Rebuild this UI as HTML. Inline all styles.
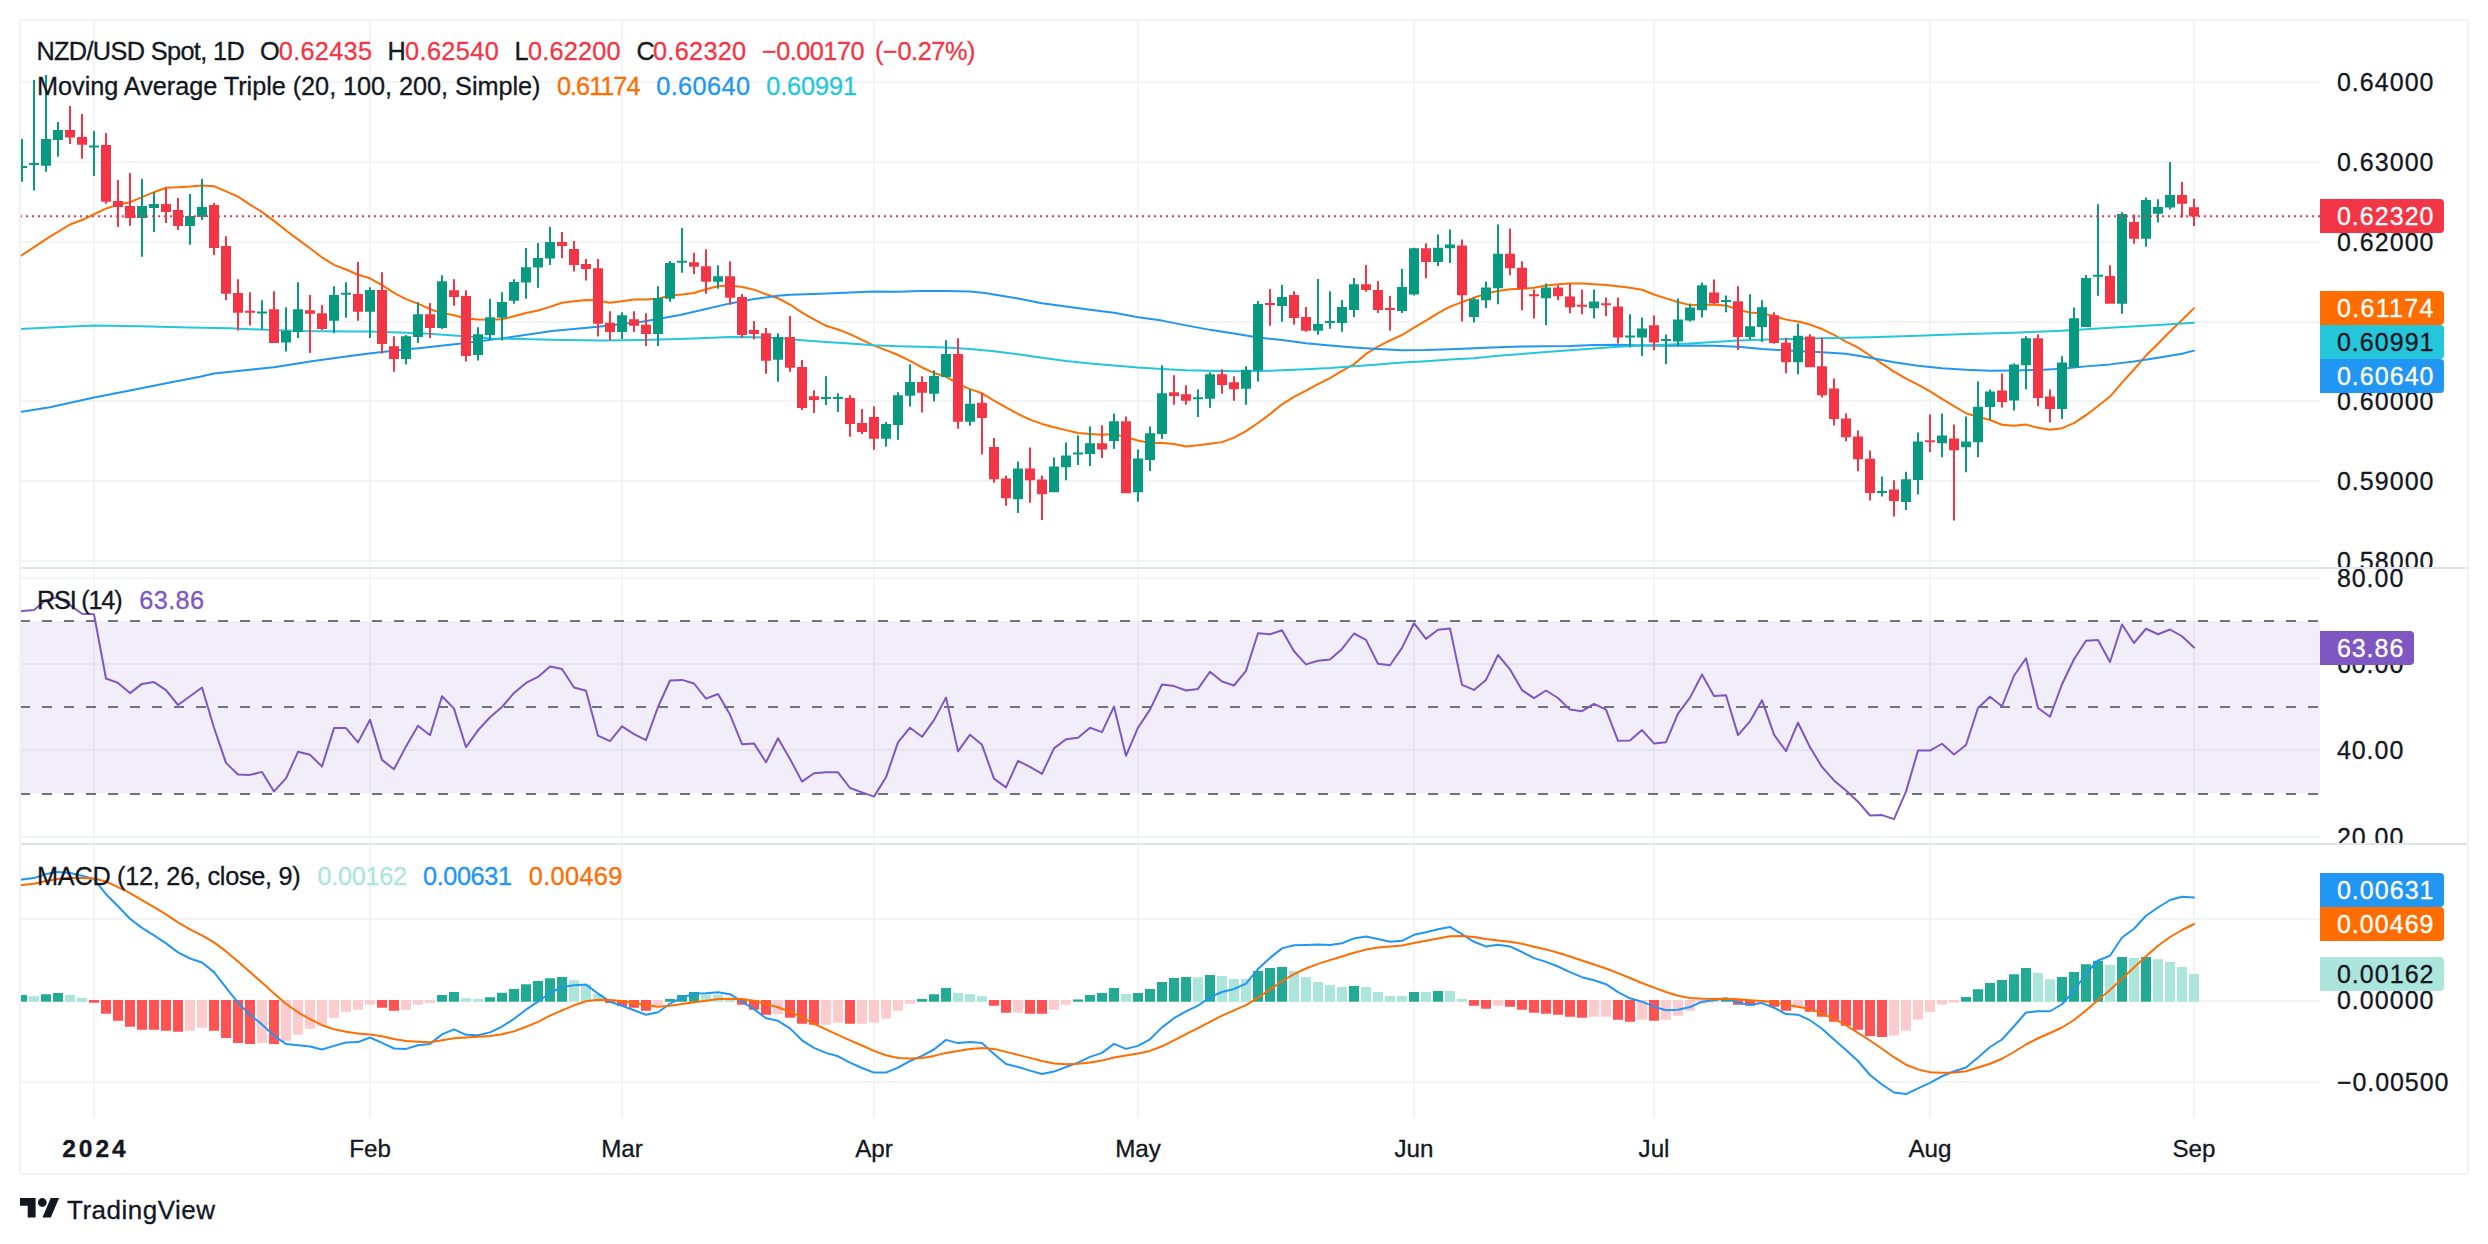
<!DOCTYPE html>
<html lang="en"><head><meta charset="utf-8"><title>NZD/USD Spot, 1D - TradingView</title>
<style>html,body{margin:0;padding:0;background:#fff;}body{width:2488px;height:1244px;overflow:hidden;}svg{display:block;font-family:'Liberation Sans', sans-serif;}text{stroke-width:0.3px;}</style>
</head><body>
<svg width="2488" height="1244" viewBox="0 0 2488 1244">
<defs>
<clipPath id="c1"><rect x="20" y="21" width="2300" height="546"/></clipPath>
<clipPath id="c2"><rect x="20" y="569" width="2300" height="274"/></clipPath>
<clipPath id="c3"><rect x="20" y="845" width="2300" height="273"/></clipPath>
<clipPath id="a1"><rect x="2320" y="21" width="147" height="546"/></clipPath>
<clipPath id="a2"><rect x="2320" y="569" width="147" height="274"/></clipPath>
<clipPath id="a3"><rect x="2320" y="845" width="147" height="273"/></clipPath>
</defs>
<rect x="0" y="0" width="2488" height="1244" fill="#fff"/>
<g fill="#F4F5F6">
<rect x="93" y="21" width="2" height="1097"/>
<rect x="369" y="21" width="2" height="1097"/>
<rect x="621" y="21" width="2" height="1097"/>
<rect x="873" y="21" width="2" height="1097"/>
<rect x="1137" y="21" width="2" height="1097"/>
<rect x="1413" y="21" width="2" height="1097"/>
<rect x="1653" y="21" width="2" height="1097"/>
<rect x="1929" y="21" width="2" height="1097"/>
<rect x="2193" y="21" width="2" height="1097"/>
</g>
<g fill="#F1F3F4">
<rect x="21" y="81" width="2299" height="2"/>
<rect x="21" y="161" width="2299" height="2"/>
<rect x="21" y="241" width="2299" height="2"/>
<rect x="21" y="321" width="2299" height="2"/>
<rect x="21" y="400" width="2299" height="2"/>
<rect x="21" y="480" width="2299" height="2"/>
<rect x="21" y="560" width="2299" height="2"/>
<rect x="21" y="577" width="2299" height="2"/>
<rect x="21" y="663" width="2299" height="2"/>
<rect x="21" y="749" width="2299" height="2"/>
<rect x="21" y="836" width="2299" height="2"/>
<rect x="21" y="918" width="2299" height="2"/>
<rect x="21" y="1000" width="2299" height="2"/>
<rect x="21" y="1081" width="2299" height="2"/>
</g>
<rect x="21" y="621" width="2299" height="172" fill="#7E57C2" fill-opacity="0.1"/>
<g stroke="#6F727D" stroke-width="2" stroke-dasharray="10 12" fill="none">
<path d="M20 621 H2320"/>
<path d="M20 707 H2320"/>
<path d="M20 794 H2320"/>
</g>
<path d="M20 256.4 L50 236.7 L70 224.5 L82.8 219.8 L94 214.1 L106 208.6 L118 204.5 L130 202.2 L142 197.2 L154 192.2 L166 187.8 L178 187.3 L190 186.5 L202 185.4 L214 186.2 L226 191.3 L238 196.6 L250 204.67 L262 211.93 L274 220.88 L286 230.47 L298 239.42 L310 248.23 L322 257.44 L334 264.87 L346 269.46 L358 274.71 L370 278.31 L382 285.21 L394 292.95 L406 299.17 L418 303.58 L430 309.18 L442 312.88 L454 315.33 L466 318.45 L478 319.52 L490 319.79 L502 319.28 L514 316.24 L526 313.05 L538 310.5 L550 306.91 L562 302.75 L574 301.25 L586 300.01 L598 300.61 L610 302.71 L622 301.27 L634 299.61 L646 299.49 L658 298.69 L670 295.44 L682 294.48 L694 292.96 L706 289.25 L718 286.34 L730 285.38 L742 287.02 L754 289.62 L766 294.29 L778 298.24 L790 304.52 L802 312.62 L814 319.37 L826 325.81 L838 329.52 L850 334.12 L862 339.97 L874 345.61 L886 350.12 L898 354.98 L910 360.92 L922 367.48 L934 372.94 L946 376.55 L958 383.83 L970 389.13 L982 393.28 L994 400.53 L1006 407.41 L1018 413.99 L1030 419.61 L1042 423.93 L1054 427.26 L1066 430.13 L1078 432.91 L1090 433.88 L1102 434.75 L1114 433.88 L1126 437.34 L1138 440.5 L1150 443.06 L1162 443.08 L1174 444.09 L1186 446.43 L1198 445.24 L1210 443.76 L1222 442.12 L1234 437.62 L1246 431.19 L1258 422.96 L1270 414.16 L1282 404.3 L1294 396.86 L1306 390.63 L1318 384.16 L1330 378.1 L1342 370.98 L1354 364.13 L1366 353.97 L1378 346.54 L1390 340.32 L1402 335 L1414 327.61 L1426 320.68 L1438 313.15 L1450 306.67 L1462 302.18 L1474 297.69 L1486 293.58 L1498 291.06 L1510 289.28 L1522 288.87 L1534 287.74 L1546 285.57 L1558 284.18 L1570 283.45 L1582 283.39 L1594 284.25 L1606 284.96 L1618 286.34 L1630 287.71 L1642 289.78 L1654 294.49 L1666 298.39 L1678 301.98 L1690 305.13 L1702 304.64 L1714 304.84 L1726 305.51 L1738 309.68 L1750 312.57 L1762 313.5 L1774 315.89 L1786 319.62 L1798 321.59 L1810 324.59 L1822 329.06 L1834 334.94 L1846 341.59 L1858 347.68 L1870 355.51 L1882 363.69 L1894 371.62 L1906 378.58 L1918 384.68 L1930 391.36 L1942 398.87 L1954 406.22 L1966 413.25 L1978 416.73 L1990 420 L2002 424.73 L2014 425.8 L2026 424.61 L2038 427.72 L2050 429.81 L2062 428.17 L2074 423.13 L2086 415.17 L2098 405.99 L2110 396.53 L2122 382.63 L2134 369.51 L2146 355.54 L2158 343.82 L2170 331.51 L2182 319.92 L2194 308.1" fill="none" stroke="#FF6D00" stroke-width="2" stroke-linejoin="round" stroke-linecap="round" clip-path="url(#c1)"/>
<path d="M20 411.9 L50 407.2 L94 397.6 L130 390.4 L170 382.6 L200 376.7 L214 373.5 L245 370.3 L274 367.2 L310 361.5 L346 356.4 L371 353.3 L400 350 L421 347.9 L461 343.5 L501 338.5 L552 330.9 L598 326.8 L642 321.8 L680 314.9 L706 309.1 L730 303.4 L754 299 L778 295.8 L790 294.8 L821 293.8 L851 292.4 L874 291.4 L898 291.8 L921 291 L946 291 L970 291.6 L985 293 L1018 298.4 L1042 303.3 L1066 306.6 L1090 309.8 L1114 312.8 L1138 317.2 L1162 320.61 L1186 325.38 L1210 329.86 L1234 333.44 L1258 337.52 L1282 340.1 L1306 343.19 L1330 345.48 L1354 347.47 L1378 349.06 L1402 350.13 L1426 349.93 L1450 349.14 L1474 348.34 L1498 347.35 L1522 346.55 L1546 346.25 L1570 346.05 L1594 345.06 L1618 344.86 L1642 345.46 L1666 345.85 L1690 345.46 L1714 345.66 L1738 346.65 L1762 348.96 L1774 349.75 L1822 352.14 L1846 353.73 L1870 357.81 L1894 362.19 L1918 365.77 L1942 368.26 L1966 369.85 L1990 370.84 L2014 370.45 L2038 370.05 L2062 368.85 L2086 366.37 L2110 364.38 L2134 361.39 L2158 357.81 L2182 353.73 L2194 350.65" fill="none" stroke="#2196F3" stroke-width="2" stroke-linejoin="round" stroke-linecap="round" clip-path="url(#c1)"/>
<path d="M20 329.1 L50 327.5 L94 325.6 L140 326.2 L190 327.5 L230 328.3 L260 329.6 L300 331 L350 331.5 L371 331.6 L421 333.3 L461 335.9 L491 338.5 L521 338.9 L562 339.9 L602 340.5 L642 339.9 L680 339 L706 338 L730 337 L754 337.2 L778 338 L802 340.2 L826 342 L850 343.6 L874 345.2 L898 346.2 L922 346.8 L946 347.6 L970 349 L994 351.2 L1018 354.2 L1042 357.8 L1066 361 L1090 363.4 L1114 365.4 L1138 367.6 L1162 368.95 L1186 370.25 L1210 370.84 L1234 371.24 L1258 371.04 L1282 370.35 L1306 369.15 L1330 367.96 L1354 366.17 L1378 364.58 L1402 362.57 L1426 361.17 L1450 359.58 L1474 358.19 L1498 355.7 L1522 353.91 L1546 352.12 L1570 350.33 L1594 348.54 L1618 346.75 L1642 345.46 L1666 344.66 L1690 343.47 L1714 342.07 L1738 340.48 L1762 339.71 L1774 339.31 L1822 338.31 L1870 337.32 L1918 335.63 L1966 334.04 L2014 332.64 L2062 330.65 L2110 327.67 L2158 324.98 L2194 322.7" fill="none" stroke="#26C6DA" stroke-width="2" stroke-linejoin="round" stroke-linecap="round" clip-path="url(#c1)"/>
<g clip-path="url(#c1)">
<g fill="#089981"><path d="M21 139.1h2V181.8h-2zM17 166.1h10V168.1h-10z"/><path d="M33 80h2V190.5h-2zM29 163h10V165h-10z"/><path d="M45 75h2V171.7h-2zM41 139.1h10V165.7h-10z"/><path d="M57 122.1h2V156.8h-2zM53 130.1h10V139.9h-10z"/><path d="M93 131.1h2V175.9h-2zM89 145.5h10V147.5h-10z"/><path d="M141 179h2V256.75h-2zM137 206.1h10V217.9h-10z"/><path d="M153 192.2h2V231.9h-2zM149 204.1h10V207.9h-10z"/><path d="M189 194.1h2V244.8h-2zM185 216.1h10V225.9h-10z"/><path d="M201 179h2V220h-2zM197 207.1h10V216.9h-10z"/><path d="M261 300.3h2V329.5h-2zM257 311.4h10V313.4h-10z"/><path d="M285 307.2h2V351.6h-2zM281 330.9h10V342.5h-10z"/><path d="M297 282.2h2V337.9h-2zM293 309.2h10V331.9h-10z"/><path d="M333 286.3h2V332.9h-2zM329 295.1h10V320.8h-10z"/><path d="M345 282.2h2V317.8h-2zM341 292.7h10V294.7h-10z"/><path d="M369 287.3h2V337.9h-2zM365 290.1h10V311.8h-10z"/><path d="M405 334.9h2V364.6h-2zM401 336.3h10V359h-10z"/><path d="M417 302.3h2V342.9h-2zM413 314.2h10V336.9h-10z"/><path d="M441 275.2h2V328.9h-2zM437 281.2h10V327.9h-10z"/><path d="M477 327.3h2V360.6h-2zM473 334.3h10V355h-10z"/><path d="M489 299.1h2V339.9h-2zM485 317.2h10V334.9h-10z"/><path d="M501 292.3h2V340.5h-2zM497 302.1h10V317.8h-10z"/><path d="M513 279.2h2V303.7h-2zM509 282h10V300.7h-10z"/><path d="M525 248.1h2V298.7h-2zM521 267.2h10V282.6h-10z"/><path d="M537 243h2V287.7h-2zM533 258.1h10V267.6h-10z"/><path d="M549 227h2V265h-2zM545 242h10V258.5h-10z"/><path d="M621 312.2h2V338.9h-2zM617 315.2h10V331.9h-10z"/><path d="M657 286.3h2V345.9h-2zM653 298.1h10V333.9h-10z"/><path d="M669 261.1h2V301.7h-2zM665 263.1h10V298.7h-10z"/><path d="M681 228h2V272.8h-2zM677 260.8h10V262.8h-10z"/><path d="M717 265.2h2V288.8h-2zM713 276.3h10V281.7h-10z"/><path d="M777 333.2h2V381.8h-2zM773 337h10V359.7h-10z"/><path d="M825 376.2h2V404.9h-2zM821 396.9h10V398.9h-10z"/><path d="M837 393.3h2V411.9h-2zM833 396.9h10V398.9h-10z"/><path d="M885 422h2V446.7h-2zM881 424h10V438.7h-10z"/><path d="M897 392.3h2V439.7h-2zM893 395.3h10V425h-10z"/><path d="M909 364.28h2V406.56h-2zM905 382.08h10V395.81h-10z"/><path d="M933 370.25h2V401.58h-2zM929 376.02h10V393.82h-10z"/><path d="M945 340.3h2V377.51h-2zM941 354.03h10V376.91h-10z"/><path d="M969 389.25h2V425.66h-2zM965 403.77h10V421.87h-10z"/><path d="M1017 461.47h2V512.9h-2zM1013 468.53h10V499.27h-10z"/><path d="M1053 457.49h2V492.21h-2zM1049 466.54h10V492.21h-10z"/><path d="M1065 442.57h2V480.17h-2zM1061 455.4h10V467.14h-10z"/><path d="M1077 435.3h2V465.05h-2zM1073 452.41h10V454.41h-10z"/><path d="M1089 426.55h2V466.04h-2zM1085 443.36h10V454.01h-10z"/><path d="M1113 413.42h2V449.03h-2zM1109 421.28h10V440.97h-10z"/><path d="M1137 449.43h2V501.85h-2zM1133 458.48h10V492.21h-10z"/><path d="M1149 426.55h2V471.12h-2zM1145 433.31h10V460.07h-10z"/><path d="M1161 365.17h2V438.98h-2zM1157 393.33h10V433.91h-10z"/><path d="M1197 389.35h2V416.9h-2zM1193 397.2h10V399.2h-10z"/><path d="M1209 372.24h2V407.85h-2zM1205 374.23h10V398.8h-10z"/><path d="M1245 366.17h2V404.76h-2zM1241 369.65h10V388.75h-10z"/><path d="M1257 301h2V381.4h-2zM1253 304h10V370.5h-10z"/><path d="M1281 285.1h2V321.8h-2zM1277 297h10V305.9h-10z"/><path d="M1317 279.1h2V334.8h-2zM1313 324h10V330.8h-10z"/><path d="M1329 291.2h2V328.8h-2zM1325 321h10V323h-10z"/><path d="M1341 300.1h2V331.8h-2zM1337 307.1h10V322.9h-10z"/><path d="M1353 278.1h2V316.9h-2zM1349 284.2h10V309.9h-10z"/><path d="M1401 269.1h2V312.9h-2zM1397 287h10V310.9h-10z"/><path d="M1413 247.7h2V295.5h-2zM1409 248.3h10V294.5h-10z"/><path d="M1437 234.54h2V266.07h-2zM1433 247.67h10V262.09h-10z"/><path d="M1449 229.57h2V263.09h-2zM1445 244.59h10V248.27h-10z"/><path d="M1473 297.31h2V322.38h-2zM1469 299.3h10V317.01h-10z"/><path d="M1485 281.39h2V308.35h-2zM1481 287.46h10V300.29h-10z"/><path d="M1497 224.49h2V304.27h-2zM1493 253.64h10V288.26h-10z"/><path d="M1545 283.38h2V324.96h-2zM1541 287.46h10V298.3h-10z"/><path d="M1593 289.45h2V318.4h-2zM1589 301.49h10V308.35h-10z"/><path d="M1629 314.32h2V347.15h-2zM1625 335.4h10V337.4h-10z"/><path d="M1641 317.6h2V356.1h-2zM1637 328.45h10V337.4h-10z"/><path d="M1665 334.41h2V364.16h-2zM1661 339.08h10V341.08h-10z"/><path d="M1677 298.5h2V346.05h-2zM1673 319.59h10V341.48h-10z"/><path d="M1689 303.48h2V321.38h-2zM1685 307.56h10V320.39h-10z"/><path d="M1701 282.39h2V317.4h-2zM1697 285.37h10V310.34h-10z"/><path d="M1725 295.42h2V312.33h-2zM1721 299.89h10V301.89h-10z"/><path d="M1749 294.23h2V339.69h-2zM1745 326.26h10V337h-10z"/><path d="M1761 300.29h2V342.07h-2zM1757 307.36h10V327.05h-10z"/><path d="M1797 323.59h2V374.23h-2zM1793 335.63h10V362.19h-10z"/><path d="M1881 476.39h2V496.48h-2zM1877 491.01h10V493.01h-10z"/><path d="M1905 471.71h2V510.11h-2zM1901 479.37h10V502.05h-10z"/><path d="M1917 432.52h2V494.39h-2zM1913 441.57h10V479.97h-10z"/><path d="M1941 413.42h2V457.29h-2zM1937 435.5h10V443.16h-10z"/><path d="M1965 416.4h2V472.31h-2zM1961 441.57h10V447.24h-10z"/><path d="M1977 381.49h2V457.29h-2zM1973 406.65h10V442.17h-10z"/><path d="M1989 389.54h2V420.08h-2zM1985 391.53h10V407.05h-10z"/><path d="M2013 363.38h2V410.44h-2zM2009 364.38h10V400.39h-10z"/><path d="M2025 336.23h2V389.35h-2zM2021 338.31h10V365.17h-10z"/><path d="M2061 356.32h2V419.09h-2zM2057 362.39h10V409.04h-10z"/><path d="M2073 307.5h2V367.5h-2zM2069 318.3h10V367.3h-10z"/><path d="M2085 275h2V327h-2zM2081 278h10V327h-10z"/><path d="M2097 204.25h2V295.75h-2zM2093 274.75h10V276.75h-10z"/><path d="M2121 212h2V313.75h-2zM2117 214h10V303.75h-10z"/><path d="M2145 197.5h2V246.75h-2zM2141 200h10V238.75h-10z"/><path d="M2157 199.25h2V222.5h-2zM2153 207h10V213.75h-10z"/><path d="M2169 162h2V209.5h-2zM2165 195h10V207.5h-10z"/></g>
<g fill="#F23645"><path d="M69 106h2V143.9h-2zM65 130.1h10V137.6h-10z"/><path d="M81 114h2V158.7h-2zM77 137.1h10V144.8h-10z"/><path d="M105 133.1h2V203.8h-2zM101 144.9h10V201.8h-10z"/><path d="M117 180h2V226.9h-2zM113 201.1h10V206.9h-10z"/><path d="M129 173h2V225.8h-2zM125 206.1h10V217.9h-10z"/><path d="M165 188.2h2V222.9h-2zM161 204.1h10V211.9h-10z"/><path d="M177 198.1h2V229.9h-2zM173 210.1h10V225.9h-10z"/><path d="M213 203.1h2V254.9h-2zM209 205.1h10V248h-10z"/><path d="M225 236.2h2V300.3h-2zM221 246.1h10V293.7h-10z"/><path d="M237 279.2h2V330.5h-2zM233 293.1h10V312.8h-10z"/><path d="M249 292.3h2V325.4h-2zM245 310.8h10V312.8h-10z"/><path d="M273 291.3h2V342.9h-2zM269 309.2h10V342.9h-10z"/><path d="M309 295.1h2V353h-2zM305 310.2h10V313.8h-10z"/><path d="M321 305.1h2V329.9h-2zM317 313.2h10V328.9h-10z"/><path d="M357 262.1h2V320.8h-2zM353 294.1h10V311.8h-10z"/><path d="M381 272.2h2V353.6h-2zM377 290.1h10V343.9h-10z"/><path d="M393 336.3h2V371.7h-2zM389 346.3h10V359h-10z"/><path d="M429 303.1h2V337.9h-2zM425 314.2h10V327.9h-10z"/><path d="M453 279.2h2V305.7h-2zM449 290.3h10V297.1h-10z"/><path d="M465 290.3h2V361.6h-2zM461 296.1h10V356h-10z"/><path d="M561 232h2V257.9h-2zM557 242h10V245.9h-10z"/><path d="M573 241h2V271.6h-2zM569 249.1h10V265h-10z"/><path d="M585 259.1h2V280.6h-2zM581 264.1h10V269h-10z"/><path d="M597 259.1h2V336.5h-2zM593 268.2h10V323.8h-10z"/><path d="M609 311.2h2V340.5h-2zM605 322.8h10V331.9h-10z"/><path d="M633 311.2h2V331.9h-2zM629 319.2h10V325.8h-10z"/><path d="M645 313.2h2V345.9h-2zM641 324.8h10V333.9h-10z"/><path d="M693 252.8h2V273.9h-2zM689 262.2h10V266.8h-10z"/><path d="M705 249.2h2V293.8h-2zM701 266.2h10V281.7h-10z"/><path d="M729 261.2h2V304.8h-2zM725 276.3h10V297.8h-10z"/><path d="M741 294h2V337.6h-2zM737 297h10V335h-10z"/><path d="M753 321.1h2V339.6h-2zM749 330h10V334h-10z"/><path d="M765 328.1h2V373.8h-2zM761 333.2h10V360.7h-10z"/><path d="M789 316.1h2V371.8h-2zM785 337h10V367.7h-10z"/><path d="M801 360.1h2V409.9h-2zM797 367.1h10V407.9h-10z"/><path d="M813 390.2h2V412.9h-2zM809 396.3h10V399.9h-10z"/><path d="M849 395.3h2V436.7h-2zM845 397.9h10V424h-10z"/><path d="M861 408.9h2V434h-2zM857 423h10V432h-10z"/><path d="M873 406.3h2V449.7h-2zM869 417h10V438.7h-10z"/><path d="M921 376.21h2V412.62h-2zM917 382.08h10V392.83h-10z"/><path d="M957 338.31h2V428.74h-2zM953 354.03h10V421.87h-10z"/><path d="M981 393.03h2V454.5h-2zM977 402.87h10V417.9h-10z"/><path d="M993 437.99h2V482.75h-2zM989 446.94h10V479.17h-10z"/><path d="M1005 475.49h2V505.83h-2zM1001 478.58h10V498.27h-10z"/><path d="M1029 447.44h2V502.85h-2zM1025 468.53h10V480.17h-10z"/><path d="M1041 475.49h2V519.96h-2zM1037 479.57h10V494.19h-10z"/><path d="M1101 425.26h2V458.08h-2zM1097 443.36h10V449.43h-10z"/><path d="M1125 416.5h2V493.2h-2zM1121 421.28h10V493.2h-10z"/><path d="M1173 375.22h2V404.76h-2zM1169 392.33h10V396.11h-10z"/><path d="M1185 385.27h2V404.76h-2zM1181 394.32h10V400.79h-10z"/><path d="M1221 369.25h2V393.72h-2zM1217 374.23h10V385.07h-10z"/><path d="M1233 376.21h2V400.79h-2zM1229 382.28h10V389.15h-10z"/><path d="M1269 289.1h2V325.8h-2zM1265 303h10V305h-10z"/><path d="M1293 291.2h2V324.8h-2zM1289 295h10V317.9h-10z"/><path d="M1305 307.1h2V331.8h-2zM1301 317h10V330.8h-10z"/><path d="M1365 265.1h2V291.8h-2zM1361 284.2h10V290h-10z"/><path d="M1377 281.1h2V312.9h-2zM1373 290h10V309.9h-10z"/><path d="M1389 296.1h2V330.8h-2zM1385 308h10V310h-10z"/><path d="M1425 243.19h2V278.21h-2zM1421 248.27h10V262.09h-10z"/><path d="M1461 239.61h2V321.38h-2zM1457 245.58h10V295.22h-10z"/><path d="M1509 228.57h2V275.13h-2zM1505 253.64h10V268.36h-10z"/><path d="M1521 261.3h2V310.34h-2zM1517 267.76h10V288.85h-10z"/><path d="M1533 289.45h2V318.4h-2zM1529 294.22h10V296.22h-10z"/><path d="M1557 285.37h2V300.29h-2zM1553 287.46h10V296.21h-10z"/><path d="M1569 283.38h2V313.33h-2zM1565 296.41h10V307.36h-10z"/><path d="M1581 289.45h2V314.32h-2zM1577 304.86h10V306.86h-10z"/><path d="M1605 297.51h2V316.31h-2zM1601 303.27h10V305.27h-10z"/><path d="M1617 297.51h2V343.47h-2zM1613 306.46h10V337.4h-10z"/><path d="M1653 315.51h2V350.13h-2zM1649 325.36h10V342.47h-10z"/><path d="M1713 279.4h2V304.27h-2zM1709 292.43h10V303.28h-10z"/><path d="M1737 286.17h2V349.93h-2zM1733 301.29h10V337h-10z"/><path d="M1773 312.33h2V343.86h-2zM1769 315.22h10V342.97h-10z"/><path d="M1785 337.72h2V373.23h-2zM1781 342.69h10V362.19h-10z"/><path d="M1809 334.24h2V367.26h-2zM1805 336.62h10V367.26h-10z"/><path d="M1821 337.72h2V397.4h-2zM1817 366.37h10V395.31h-10z"/><path d="M1833 378.5h2V425.46h-2zM1829 388.55h10V419.09h-10z"/><path d="M1845 413.42h2V441.17h-2zM1841 418.49h10V437.19h-10z"/><path d="M1857 430.53h2V471.31h-2zM1853 436.6h10V459.28h-10z"/><path d="M1869 450.62h2V500.46h-2zM1865 458.68h10V493h-10z"/><path d="M1893 480.37h2V516.58h-2zM1889 489.42h10V501.06h-10z"/><path d="M1929 414.61h2V452.22h-2zM1925 440.17h10V442.17h-10z"/><path d="M1953 424.46h2V520.46h-2zM1949 438.59h10V450.23h-10z"/><path d="M2001 373.43h2V407.45h-2zM1997 390.54h10V401.98h-10z"/><path d="M2037 334.24h2V406.36h-2zM2033 338.31h10V398h-10z"/><path d="M2049 389.54h2V422.47h-2zM2045 396.51h10V409.04h-10z"/><path d="M2109 265.2h2V303.75h-2zM2105 276h10V303.75h-10z"/><path d="M2133 214.5h2V243.75h-2zM2129 222h10V238.75h-10z"/><path d="M2181 182h2V217.5h-2zM2177 195h10V203.75h-10z"/><path d="M2193 198.8h2V226h-2zM2189 207.2h10V216.4h-10z"/></g>
<path d="M20 216.2H2320" stroke="#F23645" stroke-width="2" stroke-dasharray="2 4" fill="none"/>
</g>
<path d="M19 611.6 L22 611.1 L34 610.1 L46 600.1 L58 597.1 L70 605.1 L82 613.8 L94 614.2 L106 678.5 L118 682.9 L130 693.1 L142 683.9 L154 682.1 L166 690.1 L178 705 L190 696.2 L202 687.5 L214 727.7 L226 762.9 L238 774.5 L250 774.9 L262 771.9 L274 791.4 L286 778.4 L298 751.8 L310 754.8 L322 766.5 L334 728.1 L346 728.1 L358 742.4 L370 719.7 L382 759.9 L394 769.3 L406 746.4 L418 725.7 L430 735.3 L442 696.2 L454 708.6 L466 747.2 L478 730.3 L490 717.2 L502 707 L514 692.9 L526 682.9 L538 676.9 L550 666.4 L562 669 L574 687.5 L586 690.7 L598 735.7 L610 741.2 L622 726.3 L634 734.1 L646 740.2 L658 707 L670 680.5 L682 679.9 L694 683.5 L706 698.6 L718 694 L730 714.6 L742 744.2 L754 743.4 L766 762.3 L778 738.2 L790 758.9 L802 781.6 L814 773.3 L826 772.3 L838 772.3 L850 788 L862 792.4 L874 796.6 L886 777.3 L898 742.4 L910 727.7 L922 736.8 L934 720.1 L946 697.6 L958 751.4 L970 734.7 L982 744.8 L994 778.6 L1006 787.4 L1018 760.9 L1030 766.9 L1042 773.9 L1054 748.4 L1066 739.2 L1078 737.8 L1090 727.7 L1102 732.1 L1114 706.6 L1126 755.8 L1138 727.7 L1150 709.6 L1162 684.5 L1174 686.1 L1186 690.5 L1198 688.9 L1210 671.8 L1222 681.5 L1234 685.5 L1246 670.8 L1258 633.3 L1270 634.3 L1282 630.2 L1294 651.3 L1306 664.4 L1318 660.8 L1330 659.6 L1342 648.9 L1354 633.5 L1366 639.9 L1378 663.8 L1390 665.2 L1402 647.9 L1414 623.2 L1426 638.9 L1438 629.8 L1450 628.4 L1462 684.9 L1474 689.9 L1486 679.9 L1498 655 L1510 669.4 L1522 690.1 L1534 698.2 L1546 690.5 L1558 698 L1570 709.6 L1582 711.2 L1594 703.8 L1606 709.6 L1618 740.8 L1630 740.4 L1642 730.1 L1654 743.4 L1666 742.2 L1678 713.6 L1690 697.6 L1702 674.5 L1714 696 L1726 695.2 L1738 735.1 L1750 721.3 L1762 700.2 L1774 734.7 L1786 751.2 L1798 722.7 L1810 747.2 L1822 766.9 L1834 780.4 L1846 790.6 L1858 801.7 L1870 815.5 L1882 815.1 L1894 819.1 L1906 791.6 L1918 750.6 L1930 750.6 L1942 743.75 L1954 754.5 L1966 745 L1978 708 L1990 696.75 L2002 706.25 L2014 675.75 L2026 658.25 L2038 708 L2050 716.75 L2062 684.25 L2074 659.25 L2086 640.75 L2098 640 L2110 662 L2122 624.5 L2134 643 L2146 628.75 L2158 634.25 L2170 629.5 L2182 636.25 L2194 647.5" fill="none" stroke="#7E57C2" stroke-width="2" stroke-linejoin="round" stroke-linecap="round" clip-path="url(#c2)"/>
<g clip-path="url(#c3)">
<path fill="#22AB94" d="M17 995h10V1001.75h-10zM41 994.2h10V1001.75h-10zM53 993h10V1001.75h-10zM437 995h10V1001.75h-10zM449 992h10V1001.75h-10zM485 997.2h10V1001.75h-10zM497 992.8h10V1001.75h-10zM509 989h10V1001.75h-10zM521 984.2h10V1001.75h-10zM533 981h10V1001.75h-10zM545 978.2h10V1001.75h-10zM557 977h10V1001.75h-10zM665 999.1h10V1001.75h-10zM677 995h10V1001.75h-10zM689 992h10V1001.75h-10zM917 999.1h10V1001.75h-10zM929 994.2h10V1001.75h-10zM941 988h10V1001.75h-10zM1073 999.5h10V1001.75h-10zM1085 995h10V1001.75h-10zM1097 993h10V1001.75h-10zM1109 988h10V1001.75h-10zM1133 993h10V1001.75h-10zM1145 989h10V1001.75h-10zM1157 982h10V1001.75h-10zM1169 978h10V1001.75h-10zM1181 977h10V1001.75h-10zM1205 975h10V1001.75h-10zM1253 970.9h10V1001.75h-10zM1265 968.1h10V1001.75h-10zM1277 967.1h10V1001.75h-10zM1349 986h10V1001.75h-10zM1409 992h10V1001.75h-10zM1433 991h10V1001.75h-10zM1721 999.5h10V1001.75h-10zM1961 997h10V1001.75h-10zM1973 989.25h10V1001.75h-10zM1985 983h10V1001.75h-10zM1997 980h10V1001.75h-10zM2009 974.25h10V1001.75h-10zM2021 968h10V1001.75h-10zM2057 977h10V1001.75h-10zM2069 972h10V1001.75h-10zM2081 964.25h10V1001.75h-10zM2093 960.75h10V1001.75h-10zM2117 957h10V1001.75h-10zM2141 957h10V1001.75h-10z"/>
<path fill="#ACE5DC" d="M29 996.3h10V1001.75h-10zM65 995h10V1001.75h-10zM77 998h10V1001.75h-10zM461 998.3h10V1001.75h-10zM473 999h10V1001.75h-10zM569 980.2h10V1001.75h-10zM581 984.2h10V1001.75h-10zM593 994.2h10V1001.75h-10zM701 994.6h10V1001.75h-10zM713 994.6h10V1001.75h-10zM725 998.7h10V1001.75h-10zM953 993h10V1001.75h-10zM965 994.2h10V1001.75h-10zM977 996.3h10V1001.75h-10zM1121 994h10V1001.75h-10zM1193 977.2h10V1001.75h-10zM1217 976h10V1001.75h-10zM1229 979h10V1001.75h-10zM1241 979h10V1001.75h-10zM1289 970.9h10V1001.75h-10zM1301 977h10V1001.75h-10zM1313 982h10V1001.75h-10zM1325 985h10V1001.75h-10zM1337 987h10V1001.75h-10zM1361 987h10V1001.75h-10zM1373 992h10V1001.75h-10zM1385 996h10V1001.75h-10zM1397 996h10V1001.75h-10zM1421 992h10V1001.75h-10zM1445 991h10V1001.75h-10zM1457 999h10V1001.75h-10zM2033 973h10V1001.75h-10zM2045 979.25h10V1001.75h-10zM2105 965h10V1001.75h-10zM2129 958h10V1001.75h-10zM2153 959.25h10V1001.75h-10zM2165 962h10V1001.75h-10zM2177 967h10V1001.75h-10zM2189 973.9h10V1001.75h-10z"/>
<path fill="#FF5252" d="M89 1000h10V1002.7h-10zM101 1000h10V1013.7h-10zM113 1000h10V1020.8h-10zM125 1000h10V1026.8h-10zM137 1000h10V1029.8h-10zM149 1000h10V1029.8h-10zM161 1000h10V1030.8h-10zM173 1000h10V1031.8h-10zM209 1000h10V1030.8h-10zM221 1000h10V1037.9h-10zM233 1000h10V1042.9h-10zM245 1000h10V1043.9h-10zM269 1000h10V1043.9h-10zM377 1000h10V1007.7h-10zM389 1000h10V1010.7h-10zM605 1000h10V1003.1h-10zM617 1000h10V1006.1h-10zM629 1000h10V1007.7h-10zM641 1000h10V1010.7h-10zM737 1000h10V1004.7h-10zM749 1000h10V1009.7h-10zM761 1000h10V1014.7h-10zM785 1000h10V1017.8h-10zM797 1000h10V1023.8h-10zM809 1000h10V1024.8h-10zM845 1000h10V1023.8h-10zM989 1000h10V1005.7h-10zM1001 1000h10V1012.7h-10zM1025 1000h10V1013.7h-10zM1037 1000h10V1013.7h-10zM1469 1000h10V1005.7h-10zM1481 1000h10V1008.7h-10zM1505 1000h10V1006.7h-10zM1517 1000h10V1009.7h-10zM1529 1000h10V1012.7h-10zM1541 1000h10V1013.7h-10zM1553 1000h10V1014.7h-10zM1565 1000h10V1016.8h-10zM1577 1000h10V1017.8h-10zM1613 1000h10V1019.8h-10zM1625 1000h10V1021.8h-10zM1649 1000h10V1020.8h-10zM1733 1000h10V1004.7h-10zM1745 1000h10V1005.7h-10zM1769 1000h10V1006.7h-10zM1781 1000h10V1010.7h-10zM1805 1000h10V1011.7h-10zM1817 1000h10V1016.8h-10zM1829 1000h10V1021.8h-10zM1841 1000h10V1025.8h-10zM1853 1000h10V1029.8h-10zM1865 1000h10V1036h-10zM1877 1000h10V1037h-10z"/>
<path fill="#FCCBCD" d="M185 1000h10V1030.8h-10zM197 1000h10V1027.8h-10zM257 1000h10V1042.9h-10zM281 1000h10V1040.9h-10zM293 1000h10V1034.8h-10zM305 1000h10V1028.8h-10zM317 1000h10V1025.8h-10zM329 1000h10V1017.8h-10zM341 1000h10V1011.7h-10zM353 1000h10V1009.7h-10zM365 1000h10V1004.7h-10zM401 1000h10V1009.7h-10zM413 1000h10V1004.7h-10zM425 1000h10V1003.1h-10zM653 1000h10V1005.1h-10zM773 1000h10V1014.3h-10zM821 1000h10V1024.8h-10zM833 1000h10V1022.8h-10zM857 1000h10V1023.8h-10zM869 1000h10V1022.8h-10zM881 1000h10V1018.8h-10zM893 1000h10V1010.7h-10zM905 1000h10V1003.7h-10zM1013 1000h10V1012.7h-10zM1049 1000h10V1009.7h-10zM1061 1000h10V1004.7h-10zM1493 1000h10V1005.7h-10zM1589 1000h10V1016.8h-10zM1601 1000h10V1016.8h-10zM1637 1000h10V1019.8h-10zM1661 1000h10V1019.8h-10zM1673 1000h10V1015.7h-10zM1685 1000h10V1010.7h-10zM1697 1000h10V1003.7h-10zM1709 1000h10V1002.5h-10zM1757 1000h10V1003h-10zM1793 1000h10V1008.3h-10zM1889 1000h10V1035.6h-10zM1901 1000h10V1030.8h-10zM1913 1000h10V1019.6h-10zM1925 1000h10V1012h-10zM1937 1000h10V1004.5h-10zM1949 1000h10V1002.5h-10z"/>
</g>
<path d="M19 880 L22 879.5 L34 878.1 L46 874.1 L58 872.1 L70 873.1 L82 875.7 L94 879.1 L106 894.2 L118 906.2 L130 918.7 L142 927.9 L154 935.4 L166 943.4 L178 952.4 L190 958.5 L202 962.5 L214 972.1 L226 987.6 L238 1002.7 L250 1014.7 L262 1024.4 L274 1035.8 L286 1043.9 L298 1045.3 L310 1046.5 L322 1049.5 L334 1045.9 L346 1042.5 L358 1042.1 L370 1037.5 L382 1042.9 L394 1048.5 L406 1048.9 L418 1045.3 L430 1043.9 L442 1034.4 L454 1029.4 L466 1034.8 L478 1035.2 L490 1032.4 L502 1026.6 L514 1018.8 L526 1009.7 L538 1001.7 L550 993 L562 987 L574 985.2 L586 984.6 L598 993.6 L610 1001.7 L622 1005.7 L634 1010.3 L646 1014.7 L658 1012.3 L670 1003.7 L682 997.7 L694 993.6 L706 993.2 L718 992.2 L730 994.2 L742 1001.7 L754 1009.1 L766 1018.2 L778 1020.8 L790 1028.4 L802 1040.3 L814 1047.9 L826 1052.9 L838 1056.3 L850 1062.6 L862 1068 L874 1072.6 L886 1072.6 L898 1067.6 L910 1061 L922 1055.9 L934 1049.5 L946 1039.9 L958 1043.1 L970 1042.1 L982 1042.9 L994 1053.9 L1006 1064 L1018 1067 L1030 1070.6 L1042 1074 L1054 1071.6 L1066 1067 L1078 1062.6 L1090 1056.9 L1102 1052.9 L1114 1043.9 L1126 1048.9 L1138 1045.9 L1150 1039.3 L1162 1027.4 L1174 1018.2 L1186 1011.3 L1198 1005.7 L1210 997.1 L1222 992 L1234 989 L1246 983.6 L1258 969.1 L1270 957.9 L1282 948.4 L1294 945.2 L1306 945 L1318 944.6 L1330 945 L1342 943.2 L1354 938.4 L1366 936.4 L1378 939 L1390 941.8 L1402 940.8 L1414 934.8 L1426 932.3 L1438 929.3 L1450 926.9 L1462 934.2 L1474 941.8 L1486 946.4 L1498 944.8 L1510 946.4 L1522 952 L1534 958.1 L1546 961.9 L1558 966.5 L1570 972.1 L1582 977.2 L1594 980.2 L1606 984.2 L1618 992.2 L1630 998.3 L1642 1001.7 L1654 1006.7 L1666 1010.3 L1678 1009.7 L1690 1007.1 L1702 1001.7 L1714 1000.3 L1726 998.3 L1738 1002.7 L1750 1004.7 L1762 1003.1 L1774 1007.7 L1786 1014.1 L1798 1014.7 L1810 1020.2 L1822 1028.8 L1834 1039.5 L1846 1049.9 L1858 1061 L1870 1075 L1882 1084.5 L1894 1092.5 L1906 1094.1 L1918 1088.4 L1930 1082.8 L1942 1076.25 L1954 1071.25 L1966 1067.5 L1978 1057.5 L1990 1047 L2002 1039.5 L2014 1026.25 L2026 1012.5 L2038 1011.25 L2050 1011.25 L2062 1004.25 L2074 990.75 L2086 973.75 L2098 960.5 L2110 955.75 L2122 937.5 L2134 928.75 L2146 915.75 L2158 907.5 L2170 900 L2182 896.75 L2194 897.6" fill="none" stroke="#2196F3" stroke-width="2" stroke-linejoin="round" stroke-linecap="round" clip-path="url(#c3)"/>
<path d="M19 885.3 L22 885 L34 883.7 L46 881.1 L58 879.1 L70 878.1 L82 878.1 L94 878.5 L106 881.5 L118 887.1 L130 893.2 L142 900.2 L154 907.2 L166 914.3 L178 922.3 L190 929.3 L202 935.4 L214 942.4 L226 951.4 L238 961.5 L250 972.1 L262 982.6 L274 993.6 L286 1003.7 L298 1012.3 L310 1019.2 L322 1025.2 L334 1029.2 L346 1031.8 L358 1033.6 L370 1034.4 L382 1036.2 L394 1038.9 L406 1040.9 L418 1041.7 L430 1042.3 L442 1040.3 L454 1038.3 L466 1037.5 L478 1036.8 L490 1035.9 L502 1034.2 L514 1031.4 L526 1026.8 L538 1021.8 L550 1015.7 L562 1010.3 L574 1005.3 L586 1001.3 L598 999.7 L610 1000.1 L622 1001.1 L634 1003.1 L646 1005.1 L658 1006.7 L670 1005.7 L682 1004.1 L694 1002.3 L706 1000.7 L718 999.1 L730 998.7 L742 999.1 L754 1000.7 L766 1003.7 L778 1007.3 L790 1011.7 L802 1017.4 L814 1023.8 L826 1029.4 L838 1034.8 L850 1040.3 L862 1045.5 L874 1050.9 L886 1055.3 L898 1057.9 L910 1058.5 L922 1057.9 L934 1055.9 L946 1052.9 L958 1050.9 L970 1048.9 L982 1047.9 L994 1048.9 L1006 1051.9 L1018 1054.9 L1030 1057.9 L1042 1061 L1054 1063.4 L1066 1064.2 L1078 1063.8 L1090 1062.6 L1102 1060.6 L1114 1057.5 L1126 1055.5 L1138 1053.5 L1150 1050.9 L1162 1046.3 L1174 1040.3 L1186 1034.2 L1198 1028.2 L1210 1021.8 L1222 1015.7 L1234 1010.3 L1246 1005.1 L1258 997.7 L1270 989.6 L1282 981.2 L1294 974.1 L1306 968.5 L1318 963.9 L1330 960.1 L1342 956.5 L1354 952.8 L1366 949.6 L1378 947.6 L1390 946.4 L1402 945.4 L1414 943 L1426 940.8 L1438 938.6 L1450 936.2 L1462 935.9 L1474 937 L1486 939 L1498 940.4 L1510 941.8 L1522 943.8 L1534 946.8 L1546 949.4 L1558 952.8 L1570 956.5 L1582 960.5 L1594 964.5 L1606 968.5 L1618 973.1 L1630 978 L1642 983 L1654 987.6 L1666 992 L1678 995.7 L1690 998.1 L1702 998.7 L1714 998.9 L1726 998.7 L1738 999.3 L1750 1000.3 L1762 1001.1 L1774 1002.3 L1786 1004.7 L1798 1006.7 L1810 1009.1 L1822 1013.3 L1834 1018.8 L1846 1025.2 L1858 1032.8 L1870 1040.5 L1882 1048.8 L1894 1057.2 L1906 1064.7 L1918 1069.4 L1930 1072.2 L1942 1072.75 L1954 1072.5 L1966 1071.25 L1978 1067.5 L1990 1063.75 L2002 1058.75 L2014 1052 L2026 1044.5 L2038 1038.25 L2050 1033 L2062 1027.5 L2074 1020 L2086 1010.5 L2098 1000 L2110 990 L2122 978.75 L2134 967.5 L2146 956.25 L2158 945.75 L2170 937 L2182 930 L2194 924" fill="none" stroke="#FF6D00" stroke-width="2" stroke-linejoin="round" stroke-linecap="round" clip-path="url(#c3)"/>
<rect x="20" y="567" width="2448" height="2" fill="#E0E3EB"/>
<rect x="20" y="843" width="2448" height="2" fill="#E0E3EB"/>
<rect x="20" y="20" width="2448" height="1154" fill="none" stroke="#F0F2F7" stroke-width="2"/>
<g clip-path="url(#a1)">
<text x="2336.9" y="91.1" font-size="25" fill="#131722" stroke="#131722" textLength="96.6" lengthAdjust="spacing">0.64000</text>
</g>
<g clip-path="url(#a1)">
<text x="2336.9" y="171.1" font-size="25" fill="#131722" stroke="#131722" textLength="96.6" lengthAdjust="spacing">0.63000</text>
</g>
<g clip-path="url(#a1)">
<text x="2336.9" y="251.1" font-size="25" fill="#131722" stroke="#131722" textLength="96.6" lengthAdjust="spacing">0.62000</text>
</g>
<g clip-path="url(#a1)">
<text x="2336.9" y="331.1" font-size="25" fill="#131722" stroke="#131722" textLength="96.6" lengthAdjust="spacing">0.61000</text>
</g>
<g clip-path="url(#a1)">
<text x="2336.9" y="410.4" font-size="25" fill="#131722" stroke="#131722" textLength="96.6" lengthAdjust="spacing">0.60000</text>
</g>
<g clip-path="url(#a1)">
<text x="2336.9" y="490.3" font-size="25" fill="#131722" stroke="#131722" textLength="96.6" lengthAdjust="spacing">0.59000</text>
</g>
<g clip-path="url(#a1)">
<text x="2336.9" y="570.1" font-size="25" fill="#131722" stroke="#131722" textLength="96.6" lengthAdjust="spacing">0.58000</text>
</g>
<g clip-path="url(#a2)">
<text x="2336.9" y="587.1" font-size="25" fill="#131722" stroke="#131722" textLength="66.4" lengthAdjust="spacing">80.00</text>
</g>
<g clip-path="url(#a2)">
<text x="2336.9" y="673.1" font-size="25" fill="#131722" stroke="#131722" textLength="66.4" lengthAdjust="spacing">60.00</text>
</g>
<g clip-path="url(#a2)">
<text x="2336.9" y="759.1" font-size="25" fill="#131722" stroke="#131722" textLength="66.4" lengthAdjust="spacing">40.00</text>
</g>
<g clip-path="url(#a2)">
<text x="2336.9" y="845.6" font-size="25" fill="#131722" stroke="#131722" textLength="66.4" lengthAdjust="spacing">20.00</text>
</g>
<g clip-path="url(#a3)">
<text x="2336.9" y="928.1" font-size="25" fill="#131722" stroke="#131722" textLength="96.6" lengthAdjust="spacing">0.00500</text>
</g>
<g clip-path="url(#a3)">
<text x="2336.9" y="1009.4" font-size="25" fill="#131722" stroke="#131722" textLength="96.6" lengthAdjust="spacing">0.00000</text>
</g>
<g clip-path="url(#a3)">
<text x="2336.9" y="1090.9" font-size="25" fill="#131722" stroke="#131722" textLength="111.5" lengthAdjust="spacing">−0.00500</text>
</g>
<path d="M2320 199h120a4 4 0 0 1 4 4v26a4 4 0 0 1 -4 4h-120z" fill="#F23645"/>
<text x="2336.9" y="224.5" font-size="25" fill="#fff" stroke="#fff" textLength="96.6" lengthAdjust="spacing">0.62320</text>
<path d="M2320 291h120a4 4 0 0 1 4 4v26a4 4 0 0 1 -4 4h-120z" fill="#FF6D00"/>
<text x="2336.9" y="316.5" font-size="25" fill="#fff" stroke="#fff" textLength="96.6" lengthAdjust="spacing">0.61174</text>
<path d="M2320 325h120a4 4 0 0 1 4 4v26a4 4 0 0 1 -4 4h-120z" fill="#26C6DA"/>
<text x="2336.9" y="350.5" font-size="25" fill="#131722" stroke="#131722" textLength="96.6" lengthAdjust="spacing">0.60991</text>
<path d="M2320 359h120a4 4 0 0 1 4 4v26a4 4 0 0 1 -4 4h-120z" fill="#2196F3"/>
<text x="2336.9" y="384.5" font-size="25" fill="#fff" stroke="#fff" textLength="96.6" lengthAdjust="spacing">0.60640</text>
<path d="M2320 631h90a4 4 0 0 1 4 4v26a4 4 0 0 1 -4 4h-90z" fill="#7E57C2"/>
<text x="2336.9" y="656.5" font-size="25" fill="#fff" stroke="#fff" textLength="66.4" lengthAdjust="spacing">63.86</text>
<path d="M2320 873h120a4 4 0 0 1 4 4v26a4 4 0 0 1 -4 4h-120z" fill="#2196F3"/>
<text x="2336.9" y="898.5" font-size="25" fill="#fff" stroke="#fff" textLength="96.6" lengthAdjust="spacing">0.00631</text>
<path d="M2320 907h120a4 4 0 0 1 4 4v26a4 4 0 0 1 -4 4h-120z" fill="#FF6D00"/>
<text x="2336.9" y="932.5" font-size="25" fill="#fff" stroke="#fff" textLength="96.6" lengthAdjust="spacing">0.00469</text>
<path d="M2320 957h120a4 4 0 0 1 4 4v26a4 4 0 0 1 -4 4h-120z" fill="#ACE5DC"/>
<text x="2336.9" y="982.5" font-size="25" fill="#131722" stroke="#131722" textLength="96.6" lengthAdjust="spacing">0.00162</text>
<text x="36.4" y="60" font-size="25.3" fill="#131722" stroke="#131722" textLength="208.3" lengthAdjust="spacing">NZD/USD Spot, 1D</text>
<text x="260" y="60" font-size="25.3" fill="#131722" stroke="#131722" textLength="17" lengthAdjust="spacing">O</text>
<text x="278.8" y="60" font-size="25.3" fill="#F23645" stroke="#F23645" textLength="93.2" lengthAdjust="spacing">0.62435</text>
<text x="387.5" y="60" font-size="25.3" fill="#131722" stroke="#131722" textLength="16" lengthAdjust="spacing">H</text>
<text x="405" y="60" font-size="25.3" fill="#F23645" stroke="#F23645" textLength="93.8" lengthAdjust="spacing">0.62540</text>
<text x="514.5" y="60" font-size="25.3" fill="#131722" stroke="#131722" textLength="12" lengthAdjust="spacing">L</text>
<text x="528" y="60" font-size="25.3" fill="#F23645" stroke="#F23645" textLength="92.5" lengthAdjust="spacing">0.62200</text>
<text x="636.5" y="60" font-size="25.3" fill="#131722" stroke="#131722" textLength="16" lengthAdjust="spacing">C</text>
<text x="653" y="60" font-size="25.3" fill="#F23645" stroke="#F23645" textLength="93.2" lengthAdjust="spacing">0.62320</text>
<text x="762" y="60" font-size="25.3" fill="#F23645" stroke="#F23645" textLength="102.5" lengthAdjust="spacing">−0.00170</text>
<text x="875" y="60" font-size="25.3" fill="#F23645" stroke="#F23645" textLength="100.5" lengthAdjust="spacing">(−0.27%)</text>
<text x="37" y="94.5" font-size="25.3" fill="#131722" stroke="#131722" textLength="503.5" lengthAdjust="spacing">Moving Average Triple (20, 100, 200, Simple)</text>
<text x="557" y="94.5" font-size="25.3" fill="#FF6D00" stroke="#FF6D00" textLength="83.5" lengthAdjust="spacing">0.61174</text>
<text x="656.2" y="94.5" font-size="25.3" fill="#2196F3" stroke="#2196F3" textLength="93.8" lengthAdjust="spacing">0.60640</text>
<text x="766.2" y="94.5" font-size="25.3" fill="#26C6DA" stroke="#26C6DA" textLength="90.8" lengthAdjust="spacing">0.60991</text>
<text x="37" y="609.3" font-size="25.3" fill="#131722" stroke="#131722" textLength="85.6" lengthAdjust="spacing">RSI (14)</text>
<text x="139.3" y="609.3" font-size="25.3" fill="#7E57C2" stroke="#7E57C2" textLength="64.7" lengthAdjust="spacing">63.86</text>
<text x="37" y="885.3" font-size="25.3" fill="#131722" stroke="#131722" textLength="263.8" lengthAdjust="spacing">MACD (12, 26, close, 9)</text>
<text x="317.5" y="885.3" font-size="25.3" fill="#ACE5DC" stroke="#ACE5DC" textLength="89.5" lengthAdjust="spacing">0.00162</text>
<text x="423" y="885.3" font-size="25.3" fill="#2196F3" stroke="#2196F3" textLength="89" lengthAdjust="spacing">0.00631</text>
<text x="528.8" y="885.3" font-size="25.3" fill="#FF6D00" stroke="#FF6D00" textLength="93.5" lengthAdjust="spacing">0.00469</text>
<text x="94" y="1156.6" font-size="24.6" fill="#131722" stroke="#131722" textLength="63.5" lengthAdjust="spacing" font-weight="bold" text-anchor="middle">2024</text>
<text x="370" y="1156.8" font-size="24.2" fill="#131722" stroke="#131722" text-anchor="middle">Feb</text>
<text x="622" y="1156.8" font-size="24.2" fill="#131722" stroke="#131722" text-anchor="middle">Mar</text>
<text x="874" y="1156.8" font-size="24.2" fill="#131722" stroke="#131722" text-anchor="middle">Apr</text>
<text x="1138" y="1156.8" font-size="24.2" fill="#131722" stroke="#131722" text-anchor="middle">May</text>
<text x="1414" y="1156.8" font-size="24.2" fill="#131722" stroke="#131722" text-anchor="middle">Jun</text>
<text x="1654" y="1156.8" font-size="24.2" fill="#131722" stroke="#131722" text-anchor="middle">Jul</text>
<text x="1930" y="1156.8" font-size="24.2" fill="#131722" stroke="#131722" text-anchor="middle">Aug</text>
<text x="2194" y="1156.8" font-size="24.2" fill="#131722" stroke="#131722" text-anchor="middle">Sep</text>
<g fill="#131722">
<path d="M20 1198.1H35.6V1217.6H27.7V1205.8H20z"/>
<circle cx="42.3" cy="1202.5" r="4.4"/>
<path d="M50.7 1198.1H59.1L50.8 1217.6H42.5z"/>
</g>
<text x="67" y="1218.8" font-size="26" fill="#131722" stroke="#131722" textLength="148" lengthAdjust="spacing">TradingView</text>
</svg>
</body></html>
